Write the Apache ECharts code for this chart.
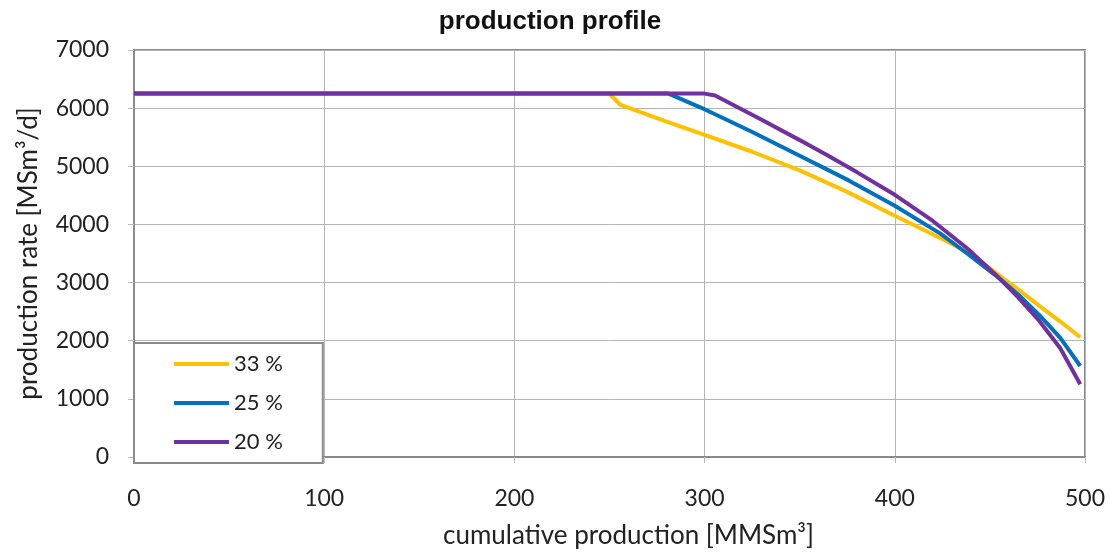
<!DOCTYPE html>
<html>
<head>
<meta charset="utf-8">
<script src="https://cdn.jsdelivr.net/npm/echarts@6/dist/echarts.min.js"></script>
<style>
html,body{margin:0;padding:0;background:#fff;}
#c{width:1110px;height:554px;}
</style>
</head>
<body>
<div id="c"></div>
<script>
var seriesNames = ['33 %', '25 %', '20 %'];
var colors = ['#FFC000', '#0070C0', '#7030A0'];

var x33 = [0, 250, 255.5, 280, 300, 325, 350, 375, 400, 425, 440, 455, 465, 476, 487, 497.5];
var y33 = [6250, 6250, 6060, 5770, 5540, 5250, 4930, 4560, 4150, 3750, 3490, 3120, 2880, 2600, 2330, 2060];

var x25 = [0, 281, 298, 324, 350, 376, 400, 424, 438, 455, 465, 476, 487, 497.5];
var y25 = [6250, 6250, 6010, 5606, 5180, 4753, 4320, 3842, 3500, 3070, 2790, 2440, 2050, 1565];

var x20 = [0, 300, 305.5, 330, 350, 365, 380, 400, 420, 438, 455, 465, 476, 487, 497.5];
var y20 = [6250, 6250, 6216, 5800, 5450, 5180, 4900, 4510, 4060, 3590, 3073, 2740, 2340, 1870, 1252];

var xTicks = [0, 100, 200, 300, 400, 500];
var yTicks = [0, 1000, 2000, 3000, 4000, 5000, 6000, 7000];

function zip(xs, ys) { return xs.map(function (x, i) { return [x, ys[i]]; }); }
var allData = [zip(x33, y33), zip(x25, y25), zip(x20, y20)];

var font = 'Lato, "Open Sans", sans-serif';
var chart = echarts.init(document.getElementById('c'), null, {renderer: 'canvas'});
chart.setOption({
  animation: false,
  backgroundColor: '#fff',
  title: {
    text: 'production profile',
    left: 545, top: 4, textAlign: 'center',
    textStyle: {fontFamily: '"Liberation Sans", Arial, sans-serif', fontSize: 26, fontWeight: 'bold', color: '#111'}
  },
  grid: {left: 134, right: 25, top: 50, bottom: 94, show: true, borderColor: '#8a8a8a', borderWidth: 2, backgroundColor: 'transparent'},
  legend: {
    data: seriesNames,
    orient: 'vertical',
    left: 134, top: 343,
    padding: [10, 40, 10, 40],
    itemGap: 17,
    itemWidth: 55, itemHeight: 4,
    icon: 'rect',
    backgroundColor: '#fff',
    borderColor: '#8a8a8a', borderWidth: 2,
    textStyle: {fontFamily: font, fontSize: 22, color: '#222'}
  },
  xAxis: {
    type: 'value', min: xTicks[0], max: xTicks[xTicks.length - 1], interval: 100,
    name: 'cumulative production [MMSm³]', nameLocation: 'middle', nameGap: 66,
    nameTextStyle: {fontFamily: font, fontSize: 26, color: '#222', padding: [0, 0, 0, 38]},
    axisLine: {show: true, lineStyle: {color: '#8a8a8a', width: 2}},
    axisTick: {show: true, inside: false, length: 6, lineStyle: {color: '#bbb'}},
    axisLabel: {fontFamily: font, fontSize: 23, color: '#222', margin: 30},
    splitLine: {show: true, lineStyle: {color: '#b4b4b4', width: 1}}
  },
  yAxis: {
    type: 'value', min: yTicks[0], max: yTicks[yTicks.length - 1], interval: 1000,
    name: 'production rate [MSm³/d]', nameLocation: 'middle', nameGap: 92, nameRotate: 90,
    nameTextStyle: {fontFamily: font, fontSize: 26, color: '#222'},
    axisLine: {show: true, lineStyle: {color: '#8a8a8a', width: 2}},
    axisTick: {show: true, inside: false, length: 6, lineStyle: {color: '#bbb'}},
    axisLabel: {fontFamily: font, fontSize: 23, color: '#222', margin: 25, formatter: function (v) { return String(v); }},
    splitLine: {show: true, lineStyle: {color: '#b4b4b4', width: 1}}
  },
  series: seriesNames.map(function (n, i) {
    return {
      name: n, type: 'line', data: allData[i],
      showSymbol: false, symbol: 'none',
      lineStyle: {color: colors[i], width: 4},
      itemStyle: {color: colors[i]},
      z: 2 + i
    };
  })
});
</script>
</body>
</html>
